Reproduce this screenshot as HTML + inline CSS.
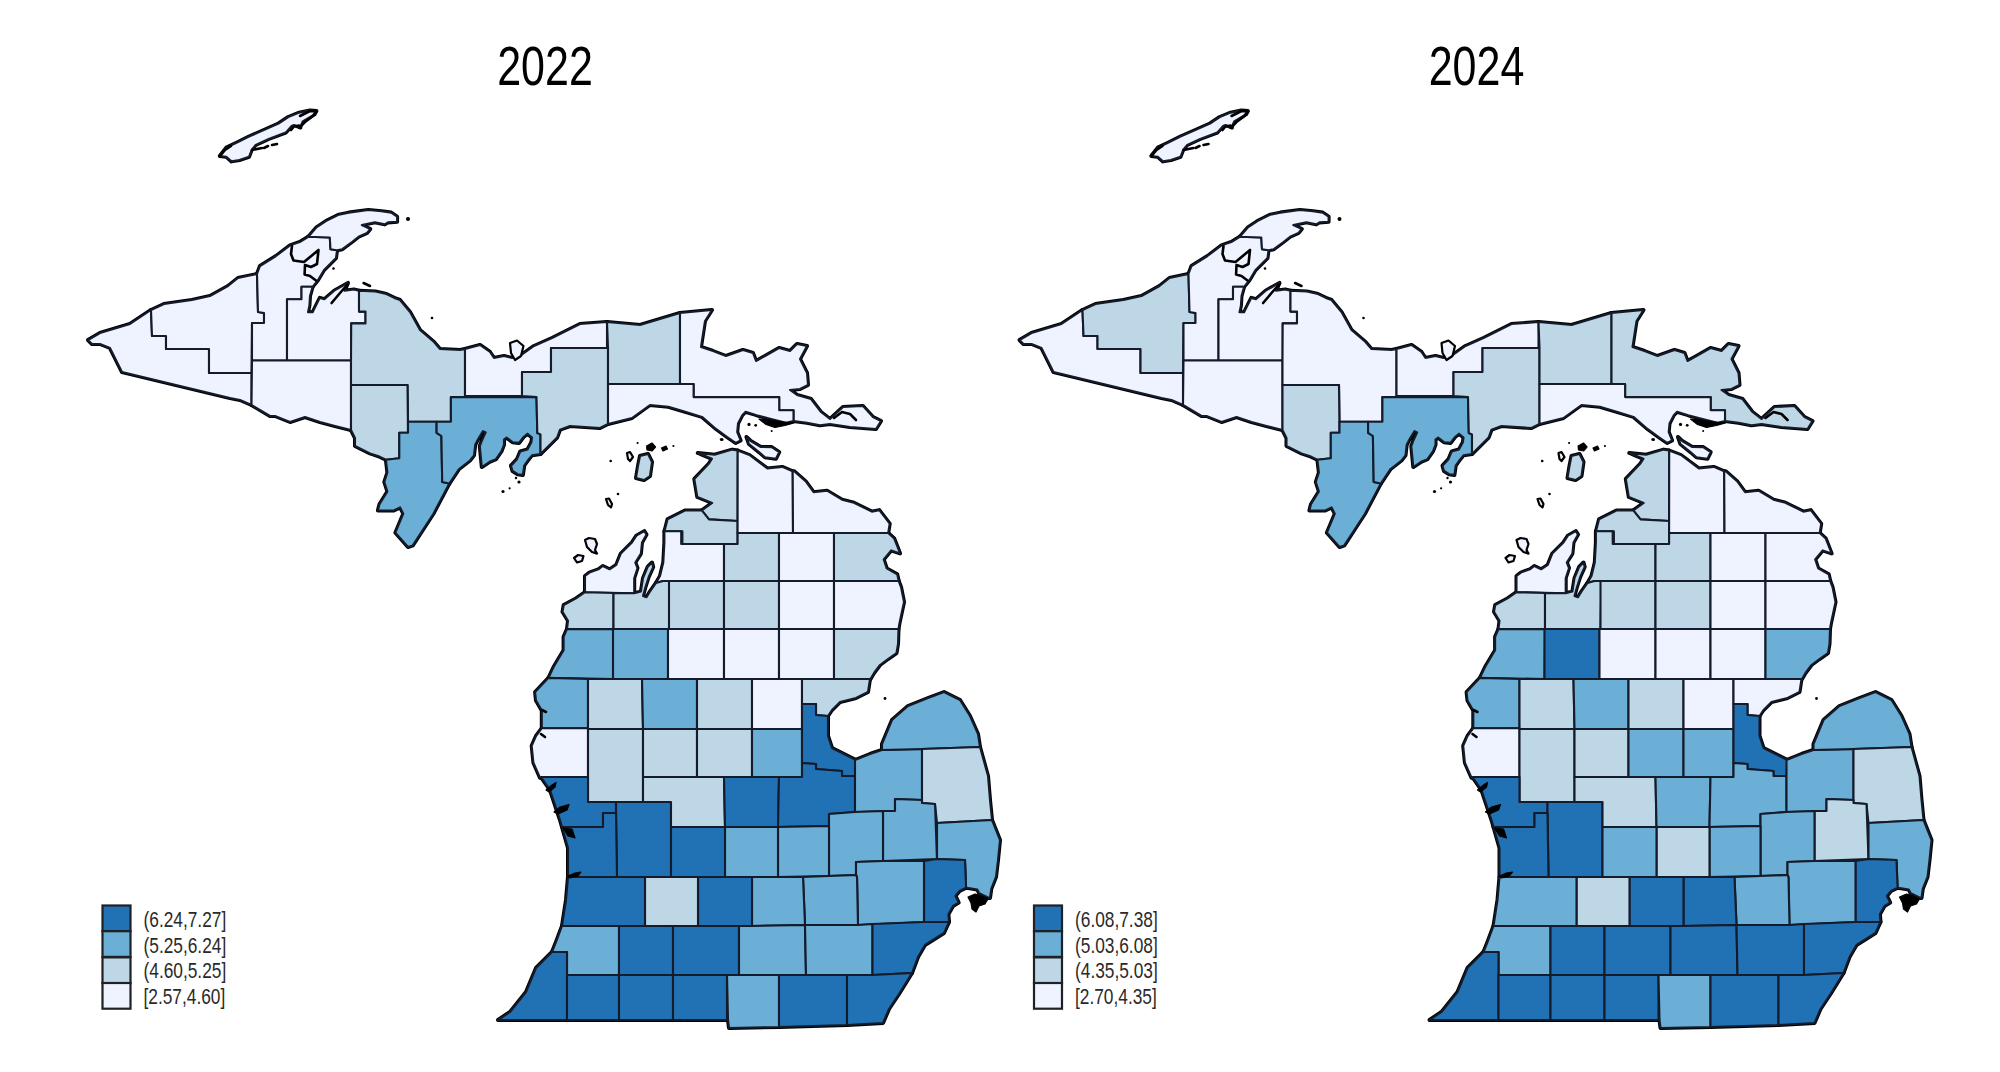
<!DOCTYPE html>
<html><head><meta charset="utf-8"><style>
html,body{margin:0;padding:0;background:#fff;}
svg{display:block;font-family:"Liberation Sans",sans-serif;}
</style></head><body>
<svg width="2000" height="1072" viewBox="0 0 2000 1072">
<rect width="2000" height="1072" fill="#fff"/>
<g transform="translate(0,0)">
<text x="545" y="85" font-size="55.7" text-anchor="middle" transform="translate(545,0) scale(0.772,1) translate(-545,0)">2022</text>
<g fill="none" stroke="#000" stroke-width="4" stroke-linejoin="round">
<polygon points="88,340 100,333 130,324 151,310 152,336 166,336 166,349 209,349 209,373 251.5,373 251.5,405 240,400 230,398 122,372 110,348 100,344 92,344"/>
<polygon points="151,310 164,304 192,300 210,296 228,286 238,278 257,274 258,312 264,313 264,323 252,323 251.5,373 209,373 209,349 166,349 166,336 152,336"/>
<polygon points="257,274 260,266 276,256 290,245.3 299.8,242 308.3,236.8 329.8,237.5 330.5,249.2 337,250.2 336,258 324,270 317.9,280.2 312.6,286.8 301.5,286.8 301.5,299.2 287,299.2 287,360.5 252,360.5 252,323 264,323 264,313 258,312"/>
<polygon points="308.3,236.8 316.1,227.7 325.9,221.1 339,214.6 348.8,212.6 368.4,210 381.4,211.3 391.2,212.6 397.1,216.6 397.1,221.8 388,222.4 384.7,224.4 374.9,222.4 361.8,225 370.3,229 367,232.9 358.6,236.8 352,242 342.3,249.2 337,250.2 330.5,249.2 329.8,237.5"/>
<polygon points="312.6,286.8 310,296 309.4,305.7 308,312.3 312.6,312.3 319.8,297.9 324.4,299.2 334.2,290.7 348,282.9 344.6,290.7 353.8,289.4 359,290.7 359,311.6 365.5,311.6 365.5,323.4 351.2,323.4 351.2,360.5 287,360.5 287,299.2 301.5,299.2 301.5,286.8"/>
<polygon points="252,360.5 351,360.5 351,430 335,426 320,422 305,417 290,422 275,416 270,416 251.5,405"/>
<polygon points="359,290.7 375.3,291.4 386.4,294 394.3,297.9 400,300 410,312 420,330 434,342 440,349 460,350 465,349 465,397.1 450.9,397.1 450.9,421.7 408,421.7 407.5,385 351,385 351,360.5 351.2,323.4 365.5,323.4 365.5,311.6 359,311.6"/>
<polygon points="351,385 407.5,385 408,432.8 399.3,432.8 399.3,458.2 385.9,459.8 379.5,456.6 370,453.4 355,446 355,438 351,430"/>
<polygon points="408,421.7 436.6,421.7 436.6,432.8 441.4,436 442.2,482 449.3,483.6 433.4,513.7 412.8,545.4 408,547 395.4,532.7 403.3,513.7 400.1,507.4 393.8,510.5 377.9,510.5 379.5,504.2 387.4,491.5 384.3,482 387.4,472.5 385.9,459.8 399.3,458.2 399.3,432.8 408,432.8"/>
<polygon points="450.9,397.1 536.5,397.1 537.3,433 540.5,434.4 540.5,454 532,455.3 528.8,459.2 524.2,465.7 522.9,474.9 517.7,474.2 512.5,471 511,465.7 517,459.2 520.3,451.4 527.5,449.4 531.4,442.2 532,437.6 527.5,433.7 523.6,437 519,442.9 512.5,442.2 506.6,437.6 504,439.6 504,444.8 501.4,451.4 496,459.2 489.6,461.8 481.8,467 479.8,446 481.8,440.9 485.7,432.4 483,431.1 477.8,439.6 475.2,444.8 474,455.3 470,460.5 458.8,469.3 449.3,483.6 442.2,482 441.4,436 436.6,432.8 436.6,421.7 450.9,421.7"/>
<polygon points="465,349 480,345 490,352 494,358 504,356 512,358 520,356 534,346 552,338 580,324 607,322 607,348 551,348 551,372 522,372 522,396 465,396"/>
<polygon points="551,348 608,348 608,424 600,428 570,426 560,429.7 557.1,437.6 545.8,448.7 540.5,454 540.5,434.4 537.3,433 536.5,397.1 522,396 522,372 551,372"/>
<polygon points="607,322 640,325 660,319 680,313 680,384 608,384 608,348"/>
<polygon points="680,313 712,310 705,321 703,334 701,347 713,351 726,356 743,350 753,353 756,361 765,356 779,348 790,351 797,344 807,346 800,359 807,373 808,385 800,389 790,390 797,395 811,399 821,412 830,419 843,407 863,406 873,417 881,421 876,429 850,427 830,424 820,425.3 807,422.7 793.5,421 793.5,410.2 779.2,410.2 779.2,397.1 693.6,397.1 693.6,384 680,384"/>
<polygon points="608,384 693.6,384 693.6,397.1 779.2,397.1 779.2,410.2 793.5,410.2 793.5,421 786,422.7 769.2,418.5 756.6,415.2 745.6,411.8 742.3,415.2 738,423.6 737.2,432 740.6,440.4 735.6,442.9 727.2,437 714.6,427.8 702,416.9 685.2,411.8 668.4,406.8 650,405 632,418 608,424"/>
<polygon points="219.8,156 226.3,147.6 236,143 249,136.5 265.5,129.4 278.5,123.5 288.3,117 298,113 310,110.4 316.4,111 314.4,114.4 302.7,121.5 300,127.4 294,125 291.6,126 285.7,132.6 268.7,139 255.7,145 251.8,149.6 249,156.8 239.4,160 231.5,161.4 226.3,156.8"/>
<polygon points="640,456 648,454 652,462 650,476 644,480 636,478 638,466"/>
<polygon points="746.5,437 750.7,441 760.8,447 771.7,447.1 779.2,452.1 775.9,458.8 765,457.2 759,452.1 749,444"/>
<polygon points="697.8,453 714.6,454.7 732.2,449.6 737.7,450.5 737.6,521 709,519.4 701.8,510.4 712.2,503 697.3,497 694.3,479 708.7,463.9 712,458.8"/>
<polygon points="664.5,531.3 667.5,519.4 685.4,510.4 701.8,510.4 709,519.4 737.6,521 737.6,544 682.4,544 682.4,531.3"/>
<polygon points="737.7,450.5 749.4,455 767.3,468.4 782.2,466.9 792.7,471.3 793,533 737.6,533"/>
<polygon points="792.7,471.3 794.2,471.3 806.1,481.8 813.6,492.2 827,490.7 842,499.7 853.9,502.7 871.8,511.6 879.3,510.1 889.7,523.6 888.2,533 793,533"/>
<polygon points="664.4,531.2 681.2,531.3 681.2,544 724,544 724,581 670,581 663,581 656,583 660,576 663.3,562.5 664.4,542.4"/>
<polygon points="724,544 737.6,544 737.6,533 779,533 779,581 724,581"/>
<polygon points="779,533 834,533 834,581 779,581"/>
<polygon points="834,533 888.2,533 894.2,538.5 900.1,553.4 891.2,550.4 883.7,559.4 886.7,568.4 897.2,574.3 898.7,581 834,581"/>
<polygon points="585,592.2 585,576 589.4,572.6 598.4,569.3 602.8,566 609.6,569.3 616.3,564.8 620.8,553.6 632,542.4 636.4,535.7 644.3,531.2 646.5,534.6 642,542.4 640.9,553.6 635.3,562.5 637.5,568 634.2,578.2 634.2,593.3"/>
<polygon points="585,592.2 613.5,593 613.5,629.1 567,629.1 568,620.7 562.5,611.8 563.7,605 576,598.4"/>
<polygon points="613.5,593 634.2,593.3 640.9,591.6 643,578.2 647.6,567 652,562.5 653.2,567 648.7,577 645.4,587.2 643,596 646.5,597.2 649.9,591.6 656,583 663,581 670,581 669,629.1 613.5,629.1"/>
<polygon points="669,581 724,581 724,629 669,629"/>
<polygon points="724,581 779,581 779,629 724,629"/>
<polygon points="779,581 834,581 834,629 779,629"/>
<polygon points="834,581 898.7,581 901,587 904,602 899.5,623 898.5,629 834,629"/>
<polygon points="567,629.1 613.5,629.1 613,679 548.5,677.9 553.6,667 563.6,650.2 563.6,636.8"/>
<polygon points="613,629 668,629 668,679 613,679"/>
<polygon points="668,629 724,629 724,679 668,679"/>
<polygon points="724,629 779,629 779,679 724,679"/>
<polygon points="779,629 834,629 834,679 779,679"/>
<polygon points="834,629 898.5,629 898,644 896.5,653 888,659 880,665 874,673 870.5,679 834,679"/>
<polygon points="548.5,677.9 588,679 588,728.2 541.8,728.2 541.8,710.6 536,700.5 535.1,692.1"/>
<polygon points="588,679 642,679 643,729 588,729"/>
<polygon points="642,679 697,679 697,729 643,729"/>
<polygon points="697,679 752,679 752,729 697,729"/>
<polygon points="752,679 802,679 802,729 752,729"/>
<polygon points="802,679 870,679 868,692 856,698 840,702 832,710 828,716 816,715 816,704 802,704"/>
<polygon points="541.8,728.2 588,728.2 588,777 540,777.7 533.4,762.6 531.7,745.8 536,736"/>
<polygon points="588,729 643,729 643,802 616,802 588,802 588,777"/>
<polygon points="643,729 697,729 697,777 643,777"/>
<polygon points="697,729 752,729 752,777 697,777"/>
<polygon points="752,729 802,729 802,777 752,777"/>
<polygon points="802,704 816,704 816,715 828,716 828,736 832,748 856,760 855,776 842,776 842,771 816,769 816,764 802,763"/>
<polygon points="541,777 588,777 588,802 616,802 616,813 603,813 603,827 562,827 560,820 550,790"/>
<polygon points="616,802 671,802 671,877 617,877 616,813"/>
<polygon points="643,777 724,777 725,827 671,827 671,802 643,802"/>
<polygon points="724,777 779,777 778,827 725,827"/>
<polygon points="779,777 802,777 802,763 816,764 816,769 842,771 842,776 855,776 855,812 829,814 829,826 778,827"/>
<polygon points="855,760 870,754 882,750 922,749 922,800 895,799 895,811 855,812"/>
<polygon points="882,750 882,744 892,720 908,706 928,698 944,692 960,700 970,716 978,734 980,747 922,749"/>
<polygon points="922,749 980,747 988,776 990,800 992,820 937,823 935,804 922,803"/>
<polygon points="895,799 922,800 922,803 935,804 937,859 883,861 883,811 895,811"/>
<polygon points="829,814 855,812 883,811 883,861 856,862 856,875 829,876"/>
<polygon points="778,827 829,826 829,876 778,877"/>
<polygon points="725,827 778,827 778,877 725,877"/>
<polygon points="671,827 725,827 725,877 671,877"/>
<polygon points="562,827 603,827 603,813 616,813 617,877 568,877 568,848"/>
<polygon points="937,823 992,820 1000,840 998,860 996,877 991.3,888.7 990,898 989,898 979.2,893.3 977.3,889.6 969.9,888.2 966.1,887.7 965,860 937,859"/>
<polygon points="924,861 937,859 965,860 966.1,887.7 959.6,891 955.4,896 958.7,902.6 953,906 948.4,914.3 949,922 924,922"/>
<polygon points="856,862 883,861 924,861 924,922 858,925 857,877 856,875"/>
<polygon points="803,877 829,876 856,875 857,877 858,925 805,925"/>
<polygon points="752,877 778,877 803,877 805,925 752,926"/>
<polygon points="698,877 725,877 752,877 752,926 698,926"/>
<polygon points="645,877 671,877 698,877 698,926 645,926"/>
<polygon points="568,877 617,877 645,877 645,926 562,926 566,900"/>
<polygon points="562,926 619,926 619,975 567,975 567,952 552,952 556,942"/>
<polygon points="619,926 645,926 673,926 673,975 619,975"/>
<polygon points="673,926 698,926 739,926 739,975 673,975"/>
<polygon points="739,926 752,926 805,925 806,975 739,975"/>
<polygon points="805,925 858,925 872.5,924 872.5,975 806,975"/>
<polygon points="872.5,924 924,922 949,922 944,933 925,945 918,957 912,973 872.5,975"/>
<polygon points="552,952 567,952 567,975 567,1020 498,1020 510,1012 526,992 536,968"/>
<polygon points="567,975 619,975 619,1020 567,1020"/>
<polygon points="619,975 673,975 673,1020 619,1020"/>
<polygon points="673,975 727,975 727,1020 673,1020"/>
<polygon points="727,975 779,975 779,1027 729,1028 728,1020"/>
<polygon points="779,975 806,975 847,975 847,1025 779,1027"/>
<polygon points="847,975 872.5,975 912,973 899,994 889,1009 883,1023 847,1025"/>
</g>
<g stroke="#141c2c" stroke-width="2.1" stroke-linejoin="round">
<polygon points="88,340 100,333 130,324 151,310 152,336 166,336 166,349 209,349 209,373 251.5,373 251.5,405 240,400 230,398 122,372 110,348 100,344 92,344" fill="#eff3ff"/>
<polygon points="151,310 164,304 192,300 210,296 228,286 238,278 257,274 258,312 264,313 264,323 252,323 251.5,373 209,373 209,349 166,349 166,336 152,336" fill="#eff3ff"/>
<polygon points="257,274 260,266 276,256 290,245.3 299.8,242 308.3,236.8 329.8,237.5 330.5,249.2 337,250.2 336,258 324,270 317.9,280.2 312.6,286.8 301.5,286.8 301.5,299.2 287,299.2 287,360.5 252,360.5 252,323 264,323 264,313 258,312" fill="#eff3ff"/>
<polygon points="308.3,236.8 316.1,227.7 325.9,221.1 339,214.6 348.8,212.6 368.4,210 381.4,211.3 391.2,212.6 397.1,216.6 397.1,221.8 388,222.4 384.7,224.4 374.9,222.4 361.8,225 370.3,229 367,232.9 358.6,236.8 352,242 342.3,249.2 337,250.2 330.5,249.2 329.8,237.5" fill="#eff3ff"/>
<polygon points="312.6,286.8 310,296 309.4,305.7 308,312.3 312.6,312.3 319.8,297.9 324.4,299.2 334.2,290.7 348,282.9 344.6,290.7 353.8,289.4 359,290.7 359,311.6 365.5,311.6 365.5,323.4 351.2,323.4 351.2,360.5 287,360.5 287,299.2 301.5,299.2 301.5,286.8" fill="#eff3ff"/>
<polygon points="252,360.5 351,360.5 351,430 335,426 320,422 305,417 290,422 275,416 270,416 251.5,405" fill="#eff3ff"/>
<polygon points="359,290.7 375.3,291.4 386.4,294 394.3,297.9 400,300 410,312 420,330 434,342 440,349 460,350 465,349 465,397.1 450.9,397.1 450.9,421.7 408,421.7 407.5,385 351,385 351,360.5 351.2,323.4 365.5,323.4 365.5,311.6 359,311.6" fill="#bdd7e7"/>
<polygon points="351,385 407.5,385 408,432.8 399.3,432.8 399.3,458.2 385.9,459.8 379.5,456.6 370,453.4 355,446 355,438 351,430" fill="#bdd7e7"/>
<polygon points="408,421.7 436.6,421.7 436.6,432.8 441.4,436 442.2,482 449.3,483.6 433.4,513.7 412.8,545.4 408,547 395.4,532.7 403.3,513.7 400.1,507.4 393.8,510.5 377.9,510.5 379.5,504.2 387.4,491.5 384.3,482 387.4,472.5 385.9,459.8 399.3,458.2 399.3,432.8 408,432.8" fill="#6baed6"/>
<polygon points="450.9,397.1 536.5,397.1 537.3,433 540.5,434.4 540.5,454 532,455.3 528.8,459.2 524.2,465.7 522.9,474.9 517.7,474.2 512.5,471 511,465.7 517,459.2 520.3,451.4 527.5,449.4 531.4,442.2 532,437.6 527.5,433.7 523.6,437 519,442.9 512.5,442.2 506.6,437.6 504,439.6 504,444.8 501.4,451.4 496,459.2 489.6,461.8 481.8,467 479.8,446 481.8,440.9 485.7,432.4 483,431.1 477.8,439.6 475.2,444.8 474,455.3 470,460.5 458.8,469.3 449.3,483.6 442.2,482 441.4,436 436.6,432.8 436.6,421.7 450.9,421.7" fill="#6baed6"/>
<polygon points="465,349 480,345 490,352 494,358 504,356 512,358 520,356 534,346 552,338 580,324 607,322 607,348 551,348 551,372 522,372 522,396 465,396" fill="#eff3ff"/>
<polygon points="551,348 608,348 608,424 600,428 570,426 560,429.7 557.1,437.6 545.8,448.7 540.5,454 540.5,434.4 537.3,433 536.5,397.1 522,396 522,372 551,372" fill="#bdd7e7"/>
<polygon points="607,322 640,325 660,319 680,313 680,384 608,384 608,348" fill="#bdd7e7"/>
<polygon points="680,313 712,310 705,321 703,334 701,347 713,351 726,356 743,350 753,353 756,361 765,356 779,348 790,351 797,344 807,346 800,359 807,373 808,385 800,389 790,390 797,395 811,399 821,412 830,419 843,407 863,406 873,417 881,421 876,429 850,427 830,424 820,425.3 807,422.7 793.5,421 793.5,410.2 779.2,410.2 779.2,397.1 693.6,397.1 693.6,384 680,384" fill="#eff3ff"/>
<polygon points="608,384 693.6,384 693.6,397.1 779.2,397.1 779.2,410.2 793.5,410.2 793.5,421 786,422.7 769.2,418.5 756.6,415.2 745.6,411.8 742.3,415.2 738,423.6 737.2,432 740.6,440.4 735.6,442.9 727.2,437 714.6,427.8 702,416.9 685.2,411.8 668.4,406.8 650,405 632,418 608,424" fill="#eff3ff"/>
<polygon points="219.8,156 226.3,147.6 236,143 249,136.5 265.5,129.4 278.5,123.5 288.3,117 298,113 310,110.4 316.4,111 314.4,114.4 302.7,121.5 300,127.4 294,125 291.6,126 285.7,132.6 268.7,139 255.7,145 251.8,149.6 249,156.8 239.4,160 231.5,161.4 226.3,156.8" fill="#eff3ff"/>
<polygon points="640,456 648,454 652,462 650,476 644,480 636,478 638,466" fill="#bdd7e7"/>
<polygon points="746.5,437 750.7,441 760.8,447 771.7,447.1 779.2,452.1 775.9,458.8 765,457.2 759,452.1 749,444" fill="#eff3ff"/>
<polygon points="697.8,453 714.6,454.7 732.2,449.6 737.7,450.5 737.6,521 709,519.4 701.8,510.4 712.2,503 697.3,497 694.3,479 708.7,463.9 712,458.8" fill="#bdd7e7"/>
<polygon points="664.5,531.3 667.5,519.4 685.4,510.4 701.8,510.4 709,519.4 737.6,521 737.6,544 682.4,544 682.4,531.3" fill="#bdd7e7"/>
<polygon points="737.7,450.5 749.4,455 767.3,468.4 782.2,466.9 792.7,471.3 793,533 737.6,533" fill="#eff3ff"/>
<polygon points="792.7,471.3 794.2,471.3 806.1,481.8 813.6,492.2 827,490.7 842,499.7 853.9,502.7 871.8,511.6 879.3,510.1 889.7,523.6 888.2,533 793,533" fill="#eff3ff"/>
<polygon points="664.4,531.2 681.2,531.3 681.2,544 724,544 724,581 670,581 663,581 656,583 660,576 663.3,562.5 664.4,542.4" fill="#eff3ff"/>
<polygon points="724,544 737.6,544 737.6,533 779,533 779,581 724,581" fill="#bdd7e7"/>
<polygon points="779,533 834,533 834,581 779,581" fill="#eff3ff"/>
<polygon points="834,533 888.2,533 894.2,538.5 900.1,553.4 891.2,550.4 883.7,559.4 886.7,568.4 897.2,574.3 898.7,581 834,581" fill="#bdd7e7"/>
<polygon points="585,592.2 585,576 589.4,572.6 598.4,569.3 602.8,566 609.6,569.3 616.3,564.8 620.8,553.6 632,542.4 636.4,535.7 644.3,531.2 646.5,534.6 642,542.4 640.9,553.6 635.3,562.5 637.5,568 634.2,578.2 634.2,593.3" fill="#eff3ff"/>
<polygon points="585,592.2 613.5,593 613.5,629.1 567,629.1 568,620.7 562.5,611.8 563.7,605 576,598.4" fill="#bdd7e7"/>
<polygon points="613.5,593 634.2,593.3 640.9,591.6 643,578.2 647.6,567 652,562.5 653.2,567 648.7,577 645.4,587.2 643,596 646.5,597.2 649.9,591.6 656,583 663,581 670,581 669,629.1 613.5,629.1" fill="#bdd7e7"/>
<polygon points="669,581 724,581 724,629 669,629" fill="#bdd7e7"/>
<polygon points="724,581 779,581 779,629 724,629" fill="#bdd7e7"/>
<polygon points="779,581 834,581 834,629 779,629" fill="#eff3ff"/>
<polygon points="834,581 898.7,581 901,587 904,602 899.5,623 898.5,629 834,629" fill="#eff3ff"/>
<polygon points="567,629.1 613.5,629.1 613,679 548.5,677.9 553.6,667 563.6,650.2 563.6,636.8" fill="#6baed6"/>
<polygon points="613,629 668,629 668,679 613,679" fill="#6baed6"/>
<polygon points="668,629 724,629 724,679 668,679" fill="#eff3ff"/>
<polygon points="724,629 779,629 779,679 724,679" fill="#eff3ff"/>
<polygon points="779,629 834,629 834,679 779,679" fill="#eff3ff"/>
<polygon points="834,629 898.5,629 898,644 896.5,653 888,659 880,665 874,673 870.5,679 834,679" fill="#bdd7e7"/>
<polygon points="548.5,677.9 588,679 588,728.2 541.8,728.2 541.8,710.6 536,700.5 535.1,692.1" fill="#6baed6"/>
<polygon points="588,679 642,679 643,729 588,729" fill="#bdd7e7"/>
<polygon points="642,679 697,679 697,729 643,729" fill="#6baed6"/>
<polygon points="697,679 752,679 752,729 697,729" fill="#bdd7e7"/>
<polygon points="752,679 802,679 802,729 752,729" fill="#eff3ff"/>
<polygon points="802,679 870,679 868,692 856,698 840,702 832,710 828,716 816,715 816,704 802,704" fill="#bdd7e7"/>
<polygon points="541.8,728.2 588,728.2 588,777 540,777.7 533.4,762.6 531.7,745.8 536,736" fill="#eff3ff"/>
<polygon points="588,729 643,729 643,802 616,802 588,802 588,777" fill="#bdd7e7"/>
<polygon points="643,729 697,729 697,777 643,777" fill="#bdd7e7"/>
<polygon points="697,729 752,729 752,777 697,777" fill="#bdd7e7"/>
<polygon points="752,729 802,729 802,777 752,777" fill="#6baed6"/>
<polygon points="802,704 816,704 816,715 828,716 828,736 832,748 856,760 855,776 842,776 842,771 816,769 816,764 802,763" fill="#2171b5"/>
<polygon points="541,777 588,777 588,802 616,802 616,813 603,813 603,827 562,827 560,820 550,790" fill="#2171b5"/>
<polygon points="616,802 671,802 671,877 617,877 616,813" fill="#2171b5"/>
<polygon points="643,777 724,777 725,827 671,827 671,802 643,802" fill="#bdd7e7"/>
<polygon points="724,777 779,777 778,827 725,827" fill="#2171b5"/>
<polygon points="779,777 802,777 802,763 816,764 816,769 842,771 842,776 855,776 855,812 829,814 829,826 778,827" fill="#2171b5"/>
<polygon points="855,760 870,754 882,750 922,749 922,800 895,799 895,811 855,812" fill="#6baed6"/>
<polygon points="882,750 882,744 892,720 908,706 928,698 944,692 960,700 970,716 978,734 980,747 922,749" fill="#6baed6"/>
<polygon points="922,749 980,747 988,776 990,800 992,820 937,823 935,804 922,803" fill="#bdd7e7"/>
<polygon points="895,799 922,800 922,803 935,804 937,859 883,861 883,811 895,811" fill="#6baed6"/>
<polygon points="829,814 855,812 883,811 883,861 856,862 856,875 829,876" fill="#6baed6"/>
<polygon points="778,827 829,826 829,876 778,877" fill="#6baed6"/>
<polygon points="725,827 778,827 778,877 725,877" fill="#6baed6"/>
<polygon points="671,827 725,827 725,877 671,877" fill="#2171b5"/>
<polygon points="562,827 603,827 603,813 616,813 617,877 568,877 568,848" fill="#2171b5"/>
<polygon points="937,823 992,820 1000,840 998,860 996,877 991.3,888.7 990,898 989,898 979.2,893.3 977.3,889.6 969.9,888.2 966.1,887.7 965,860 937,859" fill="#6baed6"/>
<polygon points="924,861 937,859 965,860 966.1,887.7 959.6,891 955.4,896 958.7,902.6 953,906 948.4,914.3 949,922 924,922" fill="#2171b5"/>
<polygon points="856,862 883,861 924,861 924,922 858,925 857,877 856,875" fill="#6baed6"/>
<polygon points="803,877 829,876 856,875 857,877 858,925 805,925" fill="#6baed6"/>
<polygon points="752,877 778,877 803,877 805,925 752,926" fill="#6baed6"/>
<polygon points="698,877 725,877 752,877 752,926 698,926" fill="#2171b5"/>
<polygon points="645,877 671,877 698,877 698,926 645,926" fill="#bdd7e7"/>
<polygon points="568,877 617,877 645,877 645,926 562,926 566,900" fill="#2171b5"/>
<polygon points="562,926 619,926 619,975 567,975 567,952 552,952 556,942" fill="#6baed6"/>
<polygon points="619,926 645,926 673,926 673,975 619,975" fill="#2171b5"/>
<polygon points="673,926 698,926 739,926 739,975 673,975" fill="#2171b5"/>
<polygon points="739,926 752,926 805,925 806,975 739,975" fill="#6baed6"/>
<polygon points="805,925 858,925 872.5,924 872.5,975 806,975" fill="#6baed6"/>
<polygon points="872.5,924 924,922 949,922 944,933 925,945 918,957 912,973 872.5,975" fill="#2171b5"/>
<polygon points="552,952 567,952 567,975 567,1020 498,1020 510,1012 526,992 536,968" fill="#2171b5"/>
<polygon points="567,975 619,975 619,1020 567,1020" fill="#2171b5"/>
<polygon points="619,975 673,975 673,1020 619,1020" fill="#2171b5"/>
<polygon points="673,975 727,975 727,1020 673,1020" fill="#2171b5"/>
<polygon points="727,975 779,975 779,1027 729,1028 728,1020" fill="#6baed6"/>
<polygon points="779,975 806,975 847,975 847,1025 779,1027" fill="#2171b5"/>
<polygon points="847,975 872.5,975 912,973 899,994 889,1009 883,1023 847,1025" fill="#2171b5"/>
</g>
<g fill="none" stroke="#000" stroke-width="2.6" stroke-linejoin="round" stroke-linecap="round">
<polyline points="292,246 291,254 293.5,260.5 304,262 318.5,250 317,264 311,267 305,265 304.6,274.5 310,276 316,280.5"/>
<polyline points="331.6,303 340,293 347.3,284.8"/>
<polyline points="363.6,283 370,286"/>
<polyline points="252,150 262,148"/>
<polyline points="264,148 268,146"/>
<polyline points="272,145 277,144"/>
<polyline points="300,116 310,111 316,111.5 313,116 305,122 300,127"/>
<polyline points="220,156 225,150 231,146"/>
<polyline points="291,130 294,126.5 299,125.5 301,128"/>
<polyline points="542,710 546,712"/>
<polyline points="541,734 545,737"/>
<polyline points="834,418 842,412 850,414 856,420"/>
</g>
<g fill="#000" stroke="#000" stroke-width="1.2" stroke-linejoin="round">
<polygon points="759,419 770,420 782,422 794,423 785,425.5 775,427.5 766,424.5"/>
<polygon points="546,790 552,785 556,782.5 555,787 549,792"/>
<polygon points="554,812 560,807 569,804.5 567,810 558,814"/>
<polygon points="563,828 572,829 575,838 568,836"/>
<polygon points="568,876 575,873 581,872 578,876 570,878"/>
<polygon points="968,897 975,894 982,896 988,899 985,904 979,906 976,912 972,909 971,903"/>
<polygon points="646.6,446 652,443 655.5,447 652,451 647,450"/>
<polygon points="661.5,448 666,446 667.5,449 663,451"/>
</g>
<g fill="#eff3ff" stroke="#000" stroke-width="2.2" stroke-linejoin="round">
<polygon points="627,453 630,452 633,457 630,461 628,459"/>
<polygon points="606,499 609,498.5 612,504 611,507.5 608,505"/>
<polygon points="585,540 589,538 595,539 597,544 595,550 597,553.6 592,552 587,547"/>
<polygon points="574,558 578,555 583.5,556 582,561 577,562.5"/>
<polygon points="510,343 517,340.5 523.5,346 521,356 515,360 511,353"/>
</g>
<circle cx="885" cy="698.5" r="1.4" fill="#000"/>
<circle cx="333.5" cy="268.5" r="1.3" fill="#000"/>
<circle cx="408" cy="219" r="2.0" fill="#000"/>
<circle cx="432" cy="318" r="1.3" fill="#000"/>
<circle cx="610.7" cy="461" r="1.3" fill="#000"/>
<circle cx="637.6" cy="443" r="1.1" fill="#000"/>
<circle cx="673.4" cy="446" r="1.1" fill="#000"/>
<circle cx="618" cy="494" r="1.3" fill="#000"/>
<circle cx="721" cy="439.5" r="1.2" fill="#000"/>
<circle cx="503" cy="491.5" r="1.6" fill="#000"/>
<circle cx="509.6" cy="488.3" r="1.1" fill="#000"/>
<circle cx="519" cy="482" r="1.6" fill="#000"/>
<circle cx="516" cy="478" r="1.2" fill="#000"/>
<circle cx="749" cy="424.4" r="1.6" fill="#000"/>
<circle cx="755.7" cy="425.3" r="1.4" fill="#000"/>
<circle cx="722" cy="439.5" r="1.5" fill="#000"/>
<circle cx="771.7" cy="431" r="1.0" fill="#000"/>
<g stroke="#1e2126" stroke-width="2.2">
<rect x="102.5" y="905.5" width="28" height="25.7" fill="#2171b5"/>
<rect x="102.5" y="931.2" width="28" height="25.7" fill="#6baed6"/>
<rect x="102.5" y="957.4" width="28" height="25.7" fill="#bdd7e7"/>
<rect x="102.5" y="983" width="28" height="25.7" fill="#eff3ff"/>
</g>
<text x="143.5" y="927" font-size="21.4" fill="#2a2a2a" transform="translate(143.5,0) scale(0.809,1) translate(-143.5,0)">(6.24,7.27]</text>
<text x="143.5" y="952.6" font-size="21.4" fill="#2a2a2a" transform="translate(143.5,0) scale(0.809,1) translate(-143.5,0)">(5.25,6.24]</text>
<text x="143.5" y="978.3" font-size="21.4" fill="#2a2a2a" transform="translate(143.5,0) scale(0.809,1) translate(-143.5,0)">(4.60,5.25]</text>
<text x="143.5" y="1004" font-size="21.4" fill="#2a2a2a" transform="translate(143.5,0) scale(0.809,1) translate(-143.5,0)">[2.57,4.60]</text>
</g>
<g transform="translate(931.5,0)">
<text x="545" y="85" font-size="55.7" text-anchor="middle" transform="translate(545,0) scale(0.772,1) translate(-545,0)">2024</text>
<g fill="none" stroke="#000" stroke-width="4" stroke-linejoin="round">
<polygon points="88,340 100,333 130,324 151,310 152,336 166,336 166,349 209,349 209,373 251.5,373 251.5,405 240,400 230,398 122,372 110,348 100,344 92,344"/>
<polygon points="151,310 164,304 192,300 210,296 228,286 238,278 257,274 258,312 264,313 264,323 252,323 251.5,373 209,373 209,349 166,349 166,336 152,336"/>
<polygon points="257,274 260,266 276,256 290,245.3 299.8,242 308.3,236.8 329.8,237.5 330.5,249.2 337,250.2 336,258 324,270 317.9,280.2 312.6,286.8 301.5,286.8 301.5,299.2 287,299.2 287,360.5 252,360.5 252,323 264,323 264,313 258,312"/>
<polygon points="308.3,236.8 316.1,227.7 325.9,221.1 339,214.6 348.8,212.6 368.4,210 381.4,211.3 391.2,212.6 397.1,216.6 397.1,221.8 388,222.4 384.7,224.4 374.9,222.4 361.8,225 370.3,229 367,232.9 358.6,236.8 352,242 342.3,249.2 337,250.2 330.5,249.2 329.8,237.5"/>
<polygon points="312.6,286.8 310,296 309.4,305.7 308,312.3 312.6,312.3 319.8,297.9 324.4,299.2 334.2,290.7 348,282.9 344.6,290.7 353.8,289.4 359,290.7 359,311.6 365.5,311.6 365.5,323.4 351.2,323.4 351.2,360.5 287,360.5 287,299.2 301.5,299.2 301.5,286.8"/>
<polygon points="252,360.5 351,360.5 351,430 335,426 320,422 305,417 290,422 275,416 270,416 251.5,405"/>
<polygon points="359,290.7 375.3,291.4 386.4,294 394.3,297.9 400,300 410,312 420,330 434,342 440,349 460,350 465,349 465,397.1 450.9,397.1 450.9,421.7 408,421.7 407.5,385 351,385 351,360.5 351.2,323.4 365.5,323.4 365.5,311.6 359,311.6"/>
<polygon points="351,385 407.5,385 408,432.8 399.3,432.8 399.3,458.2 385.9,459.8 379.5,456.6 370,453.4 355,446 355,438 351,430"/>
<polygon points="408,421.7 436.6,421.7 436.6,432.8 441.4,436 442.2,482 449.3,483.6 433.4,513.7 412.8,545.4 408,547 395.4,532.7 403.3,513.7 400.1,507.4 393.8,510.5 377.9,510.5 379.5,504.2 387.4,491.5 384.3,482 387.4,472.5 385.9,459.8 399.3,458.2 399.3,432.8 408,432.8"/>
<polygon points="450.9,397.1 536.5,397.1 537.3,433 540.5,434.4 540.5,454 532,455.3 528.8,459.2 524.2,465.7 522.9,474.9 517.7,474.2 512.5,471 511,465.7 517,459.2 520.3,451.4 527.5,449.4 531.4,442.2 532,437.6 527.5,433.7 523.6,437 519,442.9 512.5,442.2 506.6,437.6 504,439.6 504,444.8 501.4,451.4 496,459.2 489.6,461.8 481.8,467 479.8,446 481.8,440.9 485.7,432.4 483,431.1 477.8,439.6 475.2,444.8 474,455.3 470,460.5 458.8,469.3 449.3,483.6 442.2,482 441.4,436 436.6,432.8 436.6,421.7 450.9,421.7"/>
<polygon points="465,349 480,345 490,352 494,358 504,356 512,358 520,356 534,346 552,338 580,324 607,322 607,348 551,348 551,372 522,372 522,396 465,396"/>
<polygon points="551,348 608,348 608,424 600,428 570,426 560,429.7 557.1,437.6 545.8,448.7 540.5,454 540.5,434.4 537.3,433 536.5,397.1 522,396 522,372 551,372"/>
<polygon points="607,322 640,325 660,319 680,313 680,384 608,384 608,348"/>
<polygon points="680,313 712,310 705,321 703,334 701,347 713,351 726,356 743,350 753,353 756,361 765,356 779,348 790,351 797,344 807,346 800,359 807,373 808,385 800,389 790,390 797,395 811,399 821,412 830,419 843,407 863,406 873,417 881,421 876,429 850,427 830,424 820,425.3 807,422.7 793.5,421 793.5,410.2 779.2,410.2 779.2,397.1 693.6,397.1 693.6,384 680,384"/>
<polygon points="608,384 693.6,384 693.6,397.1 779.2,397.1 779.2,410.2 793.5,410.2 793.5,421 786,422.7 769.2,418.5 756.6,415.2 745.6,411.8 742.3,415.2 738,423.6 737.2,432 740.6,440.4 735.6,442.9 727.2,437 714.6,427.8 702,416.9 685.2,411.8 668.4,406.8 650,405 632,418 608,424"/>
<polygon points="219.8,156 226.3,147.6 236,143 249,136.5 265.5,129.4 278.5,123.5 288.3,117 298,113 310,110.4 316.4,111 314.4,114.4 302.7,121.5 300,127.4 294,125 291.6,126 285.7,132.6 268.7,139 255.7,145 251.8,149.6 249,156.8 239.4,160 231.5,161.4 226.3,156.8"/>
<polygon points="640,456 648,454 652,462 650,476 644,480 636,478 638,466"/>
<polygon points="746.5,437 750.7,441 760.8,447 771.7,447.1 779.2,452.1 775.9,458.8 765,457.2 759,452.1 749,444"/>
<polygon points="697.8,453 714.6,454.7 732.2,449.6 737.7,450.5 737.6,521 709,519.4 701.8,510.4 712.2,503 697.3,497 694.3,479 708.7,463.9 712,458.8"/>
<polygon points="664.5,531.3 667.5,519.4 685.4,510.4 701.8,510.4 709,519.4 737.6,521 737.6,544 682.4,544 682.4,531.3"/>
<polygon points="737.7,450.5 749.4,455 767.3,468.4 782.2,466.9 792.7,471.3 793,533 737.6,533"/>
<polygon points="792.7,471.3 794.2,471.3 806.1,481.8 813.6,492.2 827,490.7 842,499.7 853.9,502.7 871.8,511.6 879.3,510.1 889.7,523.6 888.2,533 793,533"/>
<polygon points="664.4,531.2 681.2,531.3 681.2,544 724,544 724,581 670,581 663,581 656,583 660,576 663.3,562.5 664.4,542.4"/>
<polygon points="724,544 737.6,544 737.6,533 779,533 779,581 724,581"/>
<polygon points="779,533 834,533 834,581 779,581"/>
<polygon points="834,533 888.2,533 894.2,538.5 900.1,553.4 891.2,550.4 883.7,559.4 886.7,568.4 897.2,574.3 898.7,581 834,581"/>
<polygon points="585,592.2 585,576 589.4,572.6 598.4,569.3 602.8,566 609.6,569.3 616.3,564.8 620.8,553.6 632,542.4 636.4,535.7 644.3,531.2 646.5,534.6 642,542.4 640.9,553.6 635.3,562.5 637.5,568 634.2,578.2 634.2,593.3"/>
<polygon points="585,592.2 613.5,593 613.5,629.1 567,629.1 568,620.7 562.5,611.8 563.7,605 576,598.4"/>
<polygon points="613.5,593 634.2,593.3 640.9,591.6 643,578.2 647.6,567 652,562.5 653.2,567 648.7,577 645.4,587.2 643,596 646.5,597.2 649.9,591.6 656,583 663,581 670,581 669,629.1 613.5,629.1"/>
<polygon points="669,581 724,581 724,629 669,629"/>
<polygon points="724,581 779,581 779,629 724,629"/>
<polygon points="779,581 834,581 834,629 779,629"/>
<polygon points="834,581 898.7,581 901,587 904,602 899.5,623 898.5,629 834,629"/>
<polygon points="567,629.1 613.5,629.1 613,679 548.5,677.9 553.6,667 563.6,650.2 563.6,636.8"/>
<polygon points="613,629 668,629 668,679 613,679"/>
<polygon points="668,629 724,629 724,679 668,679"/>
<polygon points="724,629 779,629 779,679 724,679"/>
<polygon points="779,629 834,629 834,679 779,679"/>
<polygon points="834,629 898.5,629 898,644 896.5,653 888,659 880,665 874,673 870.5,679 834,679"/>
<polygon points="548.5,677.9 588,679 588,728.2 541.8,728.2 541.8,710.6 536,700.5 535.1,692.1"/>
<polygon points="588,679 642,679 643,729 588,729"/>
<polygon points="642,679 697,679 697,729 643,729"/>
<polygon points="697,679 752,679 752,729 697,729"/>
<polygon points="752,679 802,679 802,729 752,729"/>
<polygon points="802,679 870,679 868,692 856,698 840,702 832,710 828,716 816,715 816,704 802,704"/>
<polygon points="541.8,728.2 588,728.2 588,777 540,777.7 533.4,762.6 531.7,745.8 536,736"/>
<polygon points="588,729 643,729 643,802 616,802 588,802 588,777"/>
<polygon points="643,729 697,729 697,777 643,777"/>
<polygon points="697,729 752,729 752,777 697,777"/>
<polygon points="752,729 802,729 802,777 752,777"/>
<polygon points="802,704 816,704 816,715 828,716 828,736 832,748 856,760 855,776 842,776 842,771 816,769 816,764 802,763"/>
<polygon points="541,777 588,777 588,802 616,802 616,813 603,813 603,827 562,827 560,820 550,790"/>
<polygon points="616,802 671,802 671,877 617,877 616,813"/>
<polygon points="643,777 724,777 725,827 671,827 671,802 643,802"/>
<polygon points="724,777 779,777 778,827 725,827"/>
<polygon points="779,777 802,777 802,763 816,764 816,769 842,771 842,776 855,776 855,812 829,814 829,826 778,827"/>
<polygon points="855,760 870,754 882,750 922,749 922,800 895,799 895,811 855,812"/>
<polygon points="882,750 882,744 892,720 908,706 928,698 944,692 960,700 970,716 978,734 980,747 922,749"/>
<polygon points="922,749 980,747 988,776 990,800 992,820 937,823 935,804 922,803"/>
<polygon points="895,799 922,800 922,803 935,804 937,859 883,861 883,811 895,811"/>
<polygon points="829,814 855,812 883,811 883,861 856,862 856,875 829,876"/>
<polygon points="778,827 829,826 829,876 778,877"/>
<polygon points="725,827 778,827 778,877 725,877"/>
<polygon points="671,827 725,827 725,877 671,877"/>
<polygon points="562,827 603,827 603,813 616,813 617,877 568,877 568,848"/>
<polygon points="937,823 992,820 1000,840 998,860 996,877 991.3,888.7 990,898 989,898 979.2,893.3 977.3,889.6 969.9,888.2 966.1,887.7 965,860 937,859"/>
<polygon points="924,861 937,859 965,860 966.1,887.7 959.6,891 955.4,896 958.7,902.6 953,906 948.4,914.3 949,922 924,922"/>
<polygon points="856,862 883,861 924,861 924,922 858,925 857,877 856,875"/>
<polygon points="803,877 829,876 856,875 857,877 858,925 805,925"/>
<polygon points="752,877 778,877 803,877 805,925 752,926"/>
<polygon points="698,877 725,877 752,877 752,926 698,926"/>
<polygon points="645,877 671,877 698,877 698,926 645,926"/>
<polygon points="568,877 617,877 645,877 645,926 562,926 566,900"/>
<polygon points="562,926 619,926 619,975 567,975 567,952 552,952 556,942"/>
<polygon points="619,926 645,926 673,926 673,975 619,975"/>
<polygon points="673,926 698,926 739,926 739,975 673,975"/>
<polygon points="739,926 752,926 805,925 806,975 739,975"/>
<polygon points="805,925 858,925 872.5,924 872.5,975 806,975"/>
<polygon points="872.5,924 924,922 949,922 944,933 925,945 918,957 912,973 872.5,975"/>
<polygon points="552,952 567,952 567,975 567,1020 498,1020 510,1012 526,992 536,968"/>
<polygon points="567,975 619,975 619,1020 567,1020"/>
<polygon points="619,975 673,975 673,1020 619,1020"/>
<polygon points="673,975 727,975 727,1020 673,1020"/>
<polygon points="727,975 779,975 779,1027 729,1028 728,1020"/>
<polygon points="779,975 806,975 847,975 847,1025 779,1027"/>
<polygon points="847,975 872.5,975 912,973 899,994 889,1009 883,1023 847,1025"/>
</g>
<g stroke="#141c2c" stroke-width="2.1" stroke-linejoin="round">
<polygon points="88,340 100,333 130,324 151,310 152,336 166,336 166,349 209,349 209,373 251.5,373 251.5,405 240,400 230,398 122,372 110,348 100,344 92,344" fill="#eff3ff"/>
<polygon points="151,310 164,304 192,300 210,296 228,286 238,278 257,274 258,312 264,313 264,323 252,323 251.5,373 209,373 209,349 166,349 166,336 152,336" fill="#bdd7e7"/>
<polygon points="257,274 260,266 276,256 290,245.3 299.8,242 308.3,236.8 329.8,237.5 330.5,249.2 337,250.2 336,258 324,270 317.9,280.2 312.6,286.8 301.5,286.8 301.5,299.2 287,299.2 287,360.5 252,360.5 252,323 264,323 264,313 258,312" fill="#eff3ff"/>
<polygon points="308.3,236.8 316.1,227.7 325.9,221.1 339,214.6 348.8,212.6 368.4,210 381.4,211.3 391.2,212.6 397.1,216.6 397.1,221.8 388,222.4 384.7,224.4 374.9,222.4 361.8,225 370.3,229 367,232.9 358.6,236.8 352,242 342.3,249.2 337,250.2 330.5,249.2 329.8,237.5" fill="#eff3ff"/>
<polygon points="312.6,286.8 310,296 309.4,305.7 308,312.3 312.6,312.3 319.8,297.9 324.4,299.2 334.2,290.7 348,282.9 344.6,290.7 353.8,289.4 359,290.7 359,311.6 365.5,311.6 365.5,323.4 351.2,323.4 351.2,360.5 287,360.5 287,299.2 301.5,299.2 301.5,286.8" fill="#eff3ff"/>
<polygon points="252,360.5 351,360.5 351,430 335,426 320,422 305,417 290,422 275,416 270,416 251.5,405" fill="#eff3ff"/>
<polygon points="359,290.7 375.3,291.4 386.4,294 394.3,297.9 400,300 410,312 420,330 434,342 440,349 460,350 465,349 465,397.1 450.9,397.1 450.9,421.7 408,421.7 407.5,385 351,385 351,360.5 351.2,323.4 365.5,323.4 365.5,311.6 359,311.6" fill="#eff3ff"/>
<polygon points="351,385 407.5,385 408,432.8 399.3,432.8 399.3,458.2 385.9,459.8 379.5,456.6 370,453.4 355,446 355,438 351,430" fill="#bdd7e7"/>
<polygon points="408,421.7 436.6,421.7 436.6,432.8 441.4,436 442.2,482 449.3,483.6 433.4,513.7 412.8,545.4 408,547 395.4,532.7 403.3,513.7 400.1,507.4 393.8,510.5 377.9,510.5 379.5,504.2 387.4,491.5 384.3,482 387.4,472.5 385.9,459.8 399.3,458.2 399.3,432.8 408,432.8" fill="#6baed6"/>
<polygon points="450.9,397.1 536.5,397.1 537.3,433 540.5,434.4 540.5,454 532,455.3 528.8,459.2 524.2,465.7 522.9,474.9 517.7,474.2 512.5,471 511,465.7 517,459.2 520.3,451.4 527.5,449.4 531.4,442.2 532,437.6 527.5,433.7 523.6,437 519,442.9 512.5,442.2 506.6,437.6 504,439.6 504,444.8 501.4,451.4 496,459.2 489.6,461.8 481.8,467 479.8,446 481.8,440.9 485.7,432.4 483,431.1 477.8,439.6 475.2,444.8 474,455.3 470,460.5 458.8,469.3 449.3,483.6 442.2,482 441.4,436 436.6,432.8 436.6,421.7 450.9,421.7" fill="#6baed6"/>
<polygon points="465,349 480,345 490,352 494,358 504,356 512,358 520,356 534,346 552,338 580,324 607,322 607,348 551,348 551,372 522,372 522,396 465,396" fill="#eff3ff"/>
<polygon points="551,348 608,348 608,424 600,428 570,426 560,429.7 557.1,437.6 545.8,448.7 540.5,454 540.5,434.4 537.3,433 536.5,397.1 522,396 522,372 551,372" fill="#bdd7e7"/>
<polygon points="607,322 640,325 660,319 680,313 680,384 608,384 608,348" fill="#bdd7e7"/>
<polygon points="680,313 712,310 705,321 703,334 701,347 713,351 726,356 743,350 753,353 756,361 765,356 779,348 790,351 797,344 807,346 800,359 807,373 808,385 800,389 790,390 797,395 811,399 821,412 830,419 843,407 863,406 873,417 881,421 876,429 850,427 830,424 820,425.3 807,422.7 793.5,421 793.5,410.2 779.2,410.2 779.2,397.1 693.6,397.1 693.6,384 680,384" fill="#bdd7e7"/>
<polygon points="608,384 693.6,384 693.6,397.1 779.2,397.1 779.2,410.2 793.5,410.2 793.5,421 786,422.7 769.2,418.5 756.6,415.2 745.6,411.8 742.3,415.2 738,423.6 737.2,432 740.6,440.4 735.6,442.9 727.2,437 714.6,427.8 702,416.9 685.2,411.8 668.4,406.8 650,405 632,418 608,424" fill="#eff3ff"/>
<polygon points="219.8,156 226.3,147.6 236,143 249,136.5 265.5,129.4 278.5,123.5 288.3,117 298,113 310,110.4 316.4,111 314.4,114.4 302.7,121.5 300,127.4 294,125 291.6,126 285.7,132.6 268.7,139 255.7,145 251.8,149.6 249,156.8 239.4,160 231.5,161.4 226.3,156.8" fill="#eff3ff"/>
<polygon points="640,456 648,454 652,462 650,476 644,480 636,478 638,466" fill="#bdd7e7"/>
<polygon points="746.5,437 750.7,441 760.8,447 771.7,447.1 779.2,452.1 775.9,458.8 765,457.2 759,452.1 749,444" fill="#eff3ff"/>
<polygon points="697.8,453 714.6,454.7 732.2,449.6 737.7,450.5 737.6,521 709,519.4 701.8,510.4 712.2,503 697.3,497 694.3,479 708.7,463.9 712,458.8" fill="#bdd7e7"/>
<polygon points="664.5,531.3 667.5,519.4 685.4,510.4 701.8,510.4 709,519.4 737.6,521 737.6,544 682.4,544 682.4,531.3" fill="#bdd7e7"/>
<polygon points="737.7,450.5 749.4,455 767.3,468.4 782.2,466.9 792.7,471.3 793,533 737.6,533" fill="#eff3ff"/>
<polygon points="792.7,471.3 794.2,471.3 806.1,481.8 813.6,492.2 827,490.7 842,499.7 853.9,502.7 871.8,511.6 879.3,510.1 889.7,523.6 888.2,533 793,533" fill="#eff3ff"/>
<polygon points="664.4,531.2 681.2,531.3 681.2,544 724,544 724,581 670,581 663,581 656,583 660,576 663.3,562.5 664.4,542.4" fill="#bdd7e7"/>
<polygon points="724,544 737.6,544 737.6,533 779,533 779,581 724,581" fill="#bdd7e7"/>
<polygon points="779,533 834,533 834,581 779,581" fill="#eff3ff"/>
<polygon points="834,533 888.2,533 894.2,538.5 900.1,553.4 891.2,550.4 883.7,559.4 886.7,568.4 897.2,574.3 898.7,581 834,581" fill="#eff3ff"/>
<polygon points="585,592.2 585,576 589.4,572.6 598.4,569.3 602.8,566 609.6,569.3 616.3,564.8 620.8,553.6 632,542.4 636.4,535.7 644.3,531.2 646.5,534.6 642,542.4 640.9,553.6 635.3,562.5 637.5,568 634.2,578.2 634.2,593.3" fill="#eff3ff"/>
<polygon points="585,592.2 613.5,593 613.5,629.1 567,629.1 568,620.7 562.5,611.8 563.7,605 576,598.4" fill="#bdd7e7"/>
<polygon points="613.5,593 634.2,593.3 640.9,591.6 643,578.2 647.6,567 652,562.5 653.2,567 648.7,577 645.4,587.2 643,596 646.5,597.2 649.9,591.6 656,583 663,581 670,581 669,629.1 613.5,629.1" fill="#bdd7e7"/>
<polygon points="669,581 724,581 724,629 669,629" fill="#bdd7e7"/>
<polygon points="724,581 779,581 779,629 724,629" fill="#bdd7e7"/>
<polygon points="779,581 834,581 834,629 779,629" fill="#eff3ff"/>
<polygon points="834,581 898.7,581 901,587 904,602 899.5,623 898.5,629 834,629" fill="#eff3ff"/>
<polygon points="567,629.1 613.5,629.1 613,679 548.5,677.9 553.6,667 563.6,650.2 563.6,636.8" fill="#6baed6"/>
<polygon points="613,629 668,629 668,679 613,679" fill="#2171b5"/>
<polygon points="668,629 724,629 724,679 668,679" fill="#eff3ff"/>
<polygon points="724,629 779,629 779,679 724,679" fill="#eff3ff"/>
<polygon points="779,629 834,629 834,679 779,679" fill="#eff3ff"/>
<polygon points="834,629 898.5,629 898,644 896.5,653 888,659 880,665 874,673 870.5,679 834,679" fill="#6baed6"/>
<polygon points="548.5,677.9 588,679 588,728.2 541.8,728.2 541.8,710.6 536,700.5 535.1,692.1" fill="#6baed6"/>
<polygon points="588,679 642,679 643,729 588,729" fill="#bdd7e7"/>
<polygon points="642,679 697,679 697,729 643,729" fill="#6baed6"/>
<polygon points="697,679 752,679 752,729 697,729" fill="#bdd7e7"/>
<polygon points="752,679 802,679 802,729 752,729" fill="#eff3ff"/>
<polygon points="802,679 870,679 868,692 856,698 840,702 832,710 828,716 816,715 816,704 802,704" fill="#eff3ff"/>
<polygon points="541.8,728.2 588,728.2 588,777 540,777.7 533.4,762.6 531.7,745.8 536,736" fill="#eff3ff"/>
<polygon points="588,729 643,729 643,802 616,802 588,802 588,777" fill="#bdd7e7"/>
<polygon points="643,729 697,729 697,777 643,777" fill="#bdd7e7"/>
<polygon points="697,729 752,729 752,777 697,777" fill="#6baed6"/>
<polygon points="752,729 802,729 802,777 752,777" fill="#6baed6"/>
<polygon points="802,704 816,704 816,715 828,716 828,736 832,748 856,760 855,776 842,776 842,771 816,769 816,764 802,763" fill="#2171b5"/>
<polygon points="541,777 588,777 588,802 616,802 616,813 603,813 603,827 562,827 560,820 550,790" fill="#2171b5"/>
<polygon points="616,802 671,802 671,877 617,877 616,813" fill="#2171b5"/>
<polygon points="643,777 724,777 725,827 671,827 671,802 643,802" fill="#bdd7e7"/>
<polygon points="724,777 779,777 778,827 725,827" fill="#6baed6"/>
<polygon points="779,777 802,777 802,763 816,764 816,769 842,771 842,776 855,776 855,812 829,814 829,826 778,827" fill="#6baed6"/>
<polygon points="855,760 870,754 882,750 922,749 922,800 895,799 895,811 855,812" fill="#6baed6"/>
<polygon points="882,750 882,744 892,720 908,706 928,698 944,692 960,700 970,716 978,734 980,747 922,749" fill="#6baed6"/>
<polygon points="922,749 980,747 988,776 990,800 992,820 937,823 935,804 922,803" fill="#bdd7e7"/>
<polygon points="895,799 922,800 922,803 935,804 937,859 883,861 883,811 895,811" fill="#bdd7e7"/>
<polygon points="829,814 855,812 883,811 883,861 856,862 856,875 829,876" fill="#6baed6"/>
<polygon points="778,827 829,826 829,876 778,877" fill="#6baed6"/>
<polygon points="725,827 778,827 778,877 725,877" fill="#bdd7e7"/>
<polygon points="671,827 725,827 725,877 671,877" fill="#6baed6"/>
<polygon points="562,827 603,827 603,813 616,813 617,877 568,877 568,848" fill="#2171b5"/>
<polygon points="937,823 992,820 1000,840 998,860 996,877 991.3,888.7 990,898 989,898 979.2,893.3 977.3,889.6 969.9,888.2 966.1,887.7 965,860 937,859" fill="#6baed6"/>
<polygon points="924,861 937,859 965,860 966.1,887.7 959.6,891 955.4,896 958.7,902.6 953,906 948.4,914.3 949,922 924,922" fill="#2171b5"/>
<polygon points="856,862 883,861 924,861 924,922 858,925 857,877 856,875" fill="#6baed6"/>
<polygon points="803,877 829,876 856,875 857,877 858,925 805,925" fill="#6baed6"/>
<polygon points="752,877 778,877 803,877 805,925 752,926" fill="#2171b5"/>
<polygon points="698,877 725,877 752,877 752,926 698,926" fill="#2171b5"/>
<polygon points="645,877 671,877 698,877 698,926 645,926" fill="#bdd7e7"/>
<polygon points="568,877 617,877 645,877 645,926 562,926 566,900" fill="#6baed6"/>
<polygon points="562,926 619,926 619,975 567,975 567,952 552,952 556,942" fill="#6baed6"/>
<polygon points="619,926 645,926 673,926 673,975 619,975" fill="#2171b5"/>
<polygon points="673,926 698,926 739,926 739,975 673,975" fill="#2171b5"/>
<polygon points="739,926 752,926 805,925 806,975 739,975" fill="#2171b5"/>
<polygon points="805,925 858,925 872.5,924 872.5,975 806,975" fill="#2171b5"/>
<polygon points="872.5,924 924,922 949,922 944,933 925,945 918,957 912,973 872.5,975" fill="#2171b5"/>
<polygon points="552,952 567,952 567,975 567,1020 498,1020 510,1012 526,992 536,968" fill="#2171b5"/>
<polygon points="567,975 619,975 619,1020 567,1020" fill="#2171b5"/>
<polygon points="619,975 673,975 673,1020 619,1020" fill="#2171b5"/>
<polygon points="673,975 727,975 727,1020 673,1020" fill="#2171b5"/>
<polygon points="727,975 779,975 779,1027 729,1028 728,1020" fill="#6baed6"/>
<polygon points="779,975 806,975 847,975 847,1025 779,1027" fill="#2171b5"/>
<polygon points="847,975 872.5,975 912,973 899,994 889,1009 883,1023 847,1025" fill="#2171b5"/>
</g>
<g fill="none" stroke="#000" stroke-width="2.6" stroke-linejoin="round" stroke-linecap="round">
<polyline points="292,246 291,254 293.5,260.5 304,262 318.5,250 317,264 311,267 305,265 304.6,274.5 310,276 316,280.5"/>
<polyline points="331.6,303 340,293 347.3,284.8"/>
<polyline points="363.6,283 370,286"/>
<polyline points="252,150 262,148"/>
<polyline points="264,148 268,146"/>
<polyline points="272,145 277,144"/>
<polyline points="300,116 310,111 316,111.5 313,116 305,122 300,127"/>
<polyline points="220,156 225,150 231,146"/>
<polyline points="291,130 294,126.5 299,125.5 301,128"/>
<polyline points="542,710 546,712"/>
<polyline points="541,734 545,737"/>
<polyline points="834,418 842,412 850,414 856,420"/>
</g>
<g fill="#000" stroke="#000" stroke-width="1.2" stroke-linejoin="round">
<polygon points="759,419 770,420 782,422 794,423 785,425.5 775,427.5 766,424.5"/>
<polygon points="546,790 552,785 556,782.5 555,787 549,792"/>
<polygon points="554,812 560,807 569,804.5 567,810 558,814"/>
<polygon points="563,828 572,829 575,838 568,836"/>
<polygon points="568,876 575,873 581,872 578,876 570,878"/>
<polygon points="968,897 975,894 982,896 988,899 985,904 979,906 976,912 972,909 971,903"/>
<polygon points="646.6,446 652,443 655.5,447 652,451 647,450"/>
<polygon points="661.5,448 666,446 667.5,449 663,451"/>
</g>
<g fill="#eff3ff" stroke="#000" stroke-width="2.2" stroke-linejoin="round">
<polygon points="627,453 630,452 633,457 630,461 628,459"/>
<polygon points="606,499 609,498.5 612,504 611,507.5 608,505"/>
<polygon points="585,540 589,538 595,539 597,544 595,550 597,553.6 592,552 587,547"/>
<polygon points="574,558 578,555 583.5,556 582,561 577,562.5"/>
<polygon points="510,343 517,340.5 523.5,346 521,356 515,360 511,353"/>
</g>
<circle cx="885" cy="698.5" r="1.4" fill="#000"/>
<circle cx="333.5" cy="268.5" r="1.3" fill="#000"/>
<circle cx="408" cy="219" r="2.0" fill="#000"/>
<circle cx="432" cy="318" r="1.3" fill="#000"/>
<circle cx="610.7" cy="461" r="1.3" fill="#000"/>
<circle cx="637.6" cy="443" r="1.1" fill="#000"/>
<circle cx="673.4" cy="446" r="1.1" fill="#000"/>
<circle cx="618" cy="494" r="1.3" fill="#000"/>
<circle cx="721" cy="439.5" r="1.2" fill="#000"/>
<circle cx="503" cy="491.5" r="1.6" fill="#000"/>
<circle cx="509.6" cy="488.3" r="1.1" fill="#000"/>
<circle cx="519" cy="482" r="1.6" fill="#000"/>
<circle cx="516" cy="478" r="1.2" fill="#000"/>
<circle cx="749" cy="424.4" r="1.6" fill="#000"/>
<circle cx="755.7" cy="425.3" r="1.4" fill="#000"/>
<circle cx="722" cy="439.5" r="1.5" fill="#000"/>
<circle cx="771.7" cy="431" r="1.0" fill="#000"/>
<g stroke="#1e2126" stroke-width="2.2">
<rect x="102.5" y="905.5" width="28" height="25.7" fill="#2171b5"/>
<rect x="102.5" y="931.2" width="28" height="25.7" fill="#6baed6"/>
<rect x="102.5" y="957.4" width="28" height="25.7" fill="#bdd7e7"/>
<rect x="102.5" y="983" width="28" height="25.7" fill="#eff3ff"/>
</g>
<text x="143.5" y="927" font-size="21.4" fill="#2a2a2a" transform="translate(143.5,0) scale(0.809,1) translate(-143.5,0)">(6.08,7.38]</text>
<text x="143.5" y="952.6" font-size="21.4" fill="#2a2a2a" transform="translate(143.5,0) scale(0.809,1) translate(-143.5,0)">(5.03,6.08]</text>
<text x="143.5" y="978.3" font-size="21.4" fill="#2a2a2a" transform="translate(143.5,0) scale(0.809,1) translate(-143.5,0)">(4.35,5.03]</text>
<text x="143.5" y="1004" font-size="21.4" fill="#2a2a2a" transform="translate(143.5,0) scale(0.809,1) translate(-143.5,0)">[2.70,4.35]</text>
</g>
</svg>
</body></html>
